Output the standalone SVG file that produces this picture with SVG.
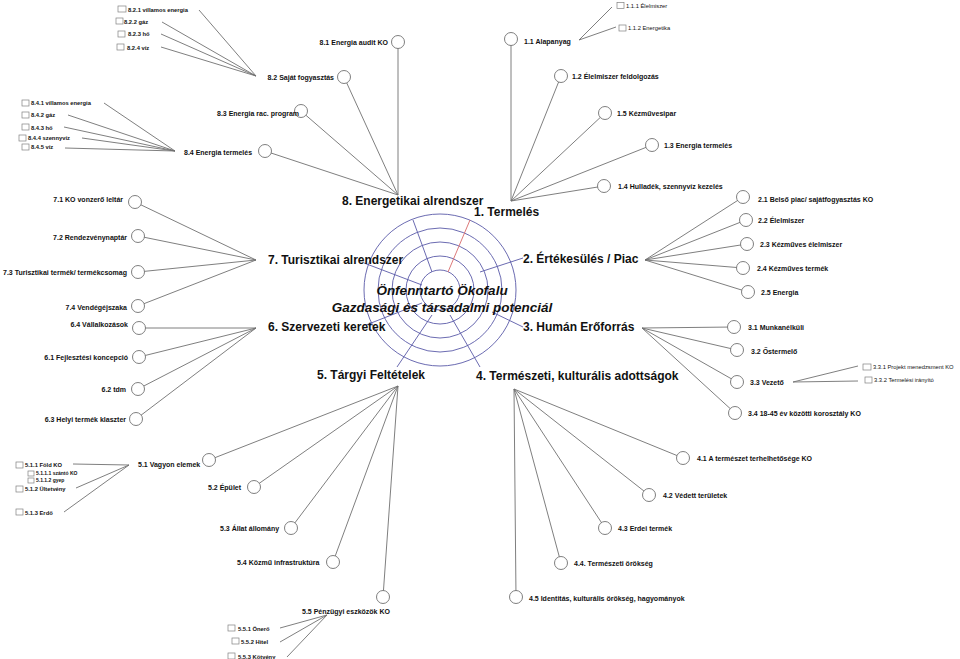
<svg xmlns="http://www.w3.org/2000/svg" width="960" height="659" viewBox="0 0 960 659">
<style>
.ln{stroke:#707070;stroke-width:0.9;fill:none}
.nd{fill:#fff;stroke:#707070;stroke-width:0.9}
.cb{fill:#fff;stroke:#808080;stroke-width:0.7}
.lb{font-family:"Liberation Sans",Arial,sans-serif;font-size:7px;font-weight:bold;fill:#111}
.sm{font-family:"Liberation Sans",Arial,sans-serif;font-size:5.8px;fill:#111}
.smb{font-family:"Liberation Sans",Arial,sans-serif;font-size:5.8px;font-weight:bold;fill:#111}
.xs{font-family:"Liberation Sans",Arial,sans-serif;font-size:5px;font-weight:bold;fill:#111}
.cat{font-family:"Liberation Sans",Arial,sans-serif;font-size:12px;font-weight:bold;fill:#111}
.ctr{font-family:"Liberation Sans",Arial,sans-serif;font-size:13.5px;font-weight:bold;font-style:italic;fill:#111}
.ring{fill:none;stroke:#5a5aa8;stroke-width:0.9}
.spk{stroke:#5a5aa8;stroke-width:0.9}
.spr{stroke:#d86a6a;stroke-width:0.9}
.r{text-anchor:end}
</style>
<rect width="960" height="659" fill="#fff"/>

<g id="target">
<circle class="ring" cx="440" cy="290" r="76"/>
<circle class="ring" cx="440" cy="290" r="62"/>
<circle class="ring" cx="440" cy="290" r="48"/>
<circle class="ring" cx="440" cy="290" r="34"/>
<circle class="ring" cx="440" cy="290" r="20"/>
<line class="spk" x1="432" y1="272" x2="413" y2="220"/>
<line class="spr" x1="448" y1="272" x2="470" y2="220"/>
<line class="spk" x1="480" y1="272" x2="523" y2="258"/>
<line class="spk" x1="492" y1="312" x2="523" y2="327"/>
<line class="spk" x1="450" y1="315" x2="480" y2="367"/>
<line class="spk" x1="432" y1="315" x2="397" y2="367"/>
<line class="spk" x1="422" y1="303" x2="366" y2="325"/>
<line class="spk" x1="422" y1="285" x2="364" y2="263"/>
</g>

<g id="connectors">
<line class="ln" x1="398" y1="42" x2="398" y2="195"/>
<line class="ln" x1="344" y1="77" x2="398" y2="195"/>
<line class="ln" x1="301" y1="111" x2="398" y2="195"/>
<line class="ln" x1="265" y1="151" x2="398" y2="195"/>
<line class="ln" x1="199" y1="10" x2="256" y2="76"/>
<line class="ln" x1="162" y1="22" x2="256" y2="76"/>
<line class="ln" x1="161" y1="34" x2="256" y2="76"/>
<line class="ln" x1="161" y1="47" x2="256" y2="76"/>
<line class="ln" x1="104" y1="103" x2="175" y2="151"/>
<line class="ln" x1="68" y1="115" x2="175" y2="151"/>
<line class="ln" x1="64" y1="127" x2="175" y2="151"/>
<line class="ln" x1="82" y1="138" x2="175" y2="151"/>
<line class="ln" x1="65" y1="148" x2="175" y2="151"/>
<line class="ln" x1="511" y1="39" x2="511" y2="201"/>
<line class="ln" x1="561" y1="76" x2="511" y2="201"/>
<line class="ln" x1="605" y1="113" x2="511" y2="201"/>
<line class="ln" x1="652" y1="145" x2="511" y2="201"/>
<line class="ln" x1="604" y1="186" x2="511" y2="201"/>
<line class="ln" x1="579" y1="40" x2="612" y2="7"/>
<line class="ln" x1="579" y1="40" x2="616" y2="27"/>
<line class="ln" x1="743" y1="197" x2="645" y2="260"/>
<line class="ln" x1="746" y1="220" x2="645" y2="260"/>
<line class="ln" x1="747" y1="244" x2="645" y2="260"/>
<line class="ln" x1="743" y1="268" x2="645" y2="260"/>
<line class="ln" x1="748" y1="292" x2="645" y2="260"/>
<line class="ln" x1="734" y1="327" x2="642" y2="328"/>
<line class="ln" x1="737" y1="350" x2="642" y2="328"/>
<line class="ln" x1="737" y1="382" x2="642" y2="328"/>
<line class="ln" x1="735" y1="413" x2="642" y2="328"/>
<line class="ln" x1="793" y1="382" x2="858" y2="366"/>
<line class="ln" x1="793" y1="382" x2="858" y2="381"/>
<line class="ln" x1="683" y1="458" x2="514" y2="389"/>
<line class="ln" x1="649" y1="495" x2="514" y2="389"/>
<line class="ln" x1="605" y1="528" x2="514" y2="389"/>
<line class="ln" x1="561" y1="563" x2="514" y2="389"/>
<line class="ln" x1="516" y1="597" x2="514" y2="389"/>
<line class="ln" x1="209" y1="460" x2="398" y2="386"/>
<line class="ln" x1="254" y1="487" x2="398" y2="386"/>
<line class="ln" x1="291" y1="528" x2="398" y2="386"/>
<line class="ln" x1="333" y1="562" x2="398" y2="386"/>
<line class="ln" x1="383" y1="597" x2="398" y2="386"/>
<line class="ln" x1="73" y1="464" x2="129" y2="465"/>
<line class="ln" x1="76" y1="488" x2="129" y2="465"/>
<line class="ln" x1="64" y1="512" x2="129" y2="465"/>
<line class="ln" x1="280" y1="628" x2="327" y2="615"/>
<line class="ln" x1="280" y1="642" x2="327" y2="615"/>
<line class="ln" x1="287" y1="657" x2="327" y2="615"/>
<line class="ln" x1="139" y1="328" x2="256" y2="328"/>
<line class="ln" x1="139" y1="357" x2="256" y2="328"/>
<line class="ln" x1="138" y1="389" x2="256" y2="328"/>
<line class="ln" x1="136" y1="419" x2="256" y2="328"/>
<line class="ln" x1="135" y1="202" x2="256" y2="260"/>
<line class="ln" x1="138" y1="236" x2="256" y2="260"/>
<line class="ln" x1="138" y1="272" x2="256" y2="260"/>
<line class="ln" x1="138" y1="306" x2="256" y2="260"/>
</g>

<g id="center-text">
<text class="ctr" x="442" y="295" text-anchor="middle">Önfenntartó Ökofalu</text>
<text class="ctr" x="442" y="312" text-anchor="middle">Gazdasági és társadalmi potenciál</text>
</g>

<g id="cat8"><text class="cat" x="342" y="205">8. Energetikai alrendszer</text></g>
<g id="cat1"><text class="cat" x="474" y="216">1. Termelés</text></g>
<g id="cat2"><text class="cat" x="523" y="263">2. Értékesülés / Piac</text></g>
<g id="cat3"><text class="cat" x="523" y="331">3. Humán Erőforrás</text></g>
<g id="cat4"><text class="cat" x="476" y="380">4. Természeti, kulturális adottságok</text></g>
<g id="cat5"><text class="cat" x="317" y="379">5. Tárgyi Feltételek</text></g>
<g id="cat6"><text class="cat" x="268" y="331">6. Szervezeti keretek</text></g>
<g id="cat7"><text class="cat" x="268" y="264">7. Turisztikai alrendszer</text></g>

<g id="n8-1"><circle class="nd" cx="398" cy="42" r="6.5"/><text class="lb r" x="388" y="45">8.1 Energia audit KO</text></g>
<g id="n8-2"><circle class="nd" cx="344" cy="77" r="6.5"/><text class="lb r" x="334" y="80">8.2 Saját fogyasztás</text></g>
<g id="n8-3"><circle class="nd" cx="301" cy="111" r="6.5"/><text class="lb" x="217" y="116">8.3 Energia rac. program</text></g>
<g id="n8-4"><circle class="nd" cx="265" cy="151" r="6.5"/><text class="lb" x="184" y="155">8.4 Energia termelés</text></g>
<g id="n8-2-1"><rect class="cb" x="118" y="6" width="8" height="6"/><text class="smb" x="128" y="11.5">8.2.1 villamos energia</text></g>
<g id="n8-2-2"><rect class="cb" x="116" y="18" width="7" height="6"/><text class="smb" x="124" y="23.5">8.2.2 gáz</text></g>
<g id="n8-2-3"><rect class="cb" x="118" y="31" width="7" height="6"/><text class="smb" x="128" y="36">8.2.3 hő</text></g>
<g id="n8-2-4"><rect class="cb" x="117" y="44" width="7" height="6"/><text class="smb" x="127" y="49.5">8.2.4 víz</text></g>
<g id="n8-4-1"><rect class="cb" x="22" y="100" width="7" height="6"/><text class="smb" x="31" y="105">8.4.1 villamos energia</text></g>
<g id="n8-4-2"><rect class="cb" x="22" y="112" width="7" height="6"/><text class="smb" x="31" y="117">8.4.2 gáz</text></g>
<g id="n8-4-3"><rect class="cb" x="22" y="124" width="7" height="6"/><text class="smb" x="31" y="129.5">8.4.3 hő</text></g>
<g id="n8-4-4"><rect class="cb" x="19" y="135" width="7" height="6"/><text class="smb" x="28" y="140">8.4.4 szennyvíz</text></g>
<g id="n8-4-5"><rect class="cb" x="22" y="144" width="7" height="6"/><text class="smb" x="31" y="149">8.4.5 víz</text></g>

<g id="n1-1"><circle class="nd" cx="511" cy="39" r="6.5"/><text class="lb" x="524" y="44">1.1 Alapanyag</text></g>
<g id="n1-2"><circle class="nd" cx="561" cy="76" r="6.5"/><text class="lb" x="572" y="79">1.2 Élelmiszer feldolgozás</text></g>
<g id="n1-5"><circle class="nd" cx="605" cy="113" r="6.5"/><text class="lb" x="617" y="116">1.5 Kézművesipar</text></g>
<g id="n1-3"><circle class="nd" cx="652" cy="145" r="6.5"/><text class="lb" x="664" y="148">1.3 Energia termelés</text></g>
<g id="n1-4"><circle class="nd" cx="604" cy="186" r="6.5"/><text class="lb" x="618" y="189">1.4 Hulladék, szennyvíz kezelés</text></g>
<g id="n1-1-1"><rect class="cb" x="617" y="2.5" width="7" height="6"/><text class="sm" x="626" y="8">1.1.1 Élelmiszer</text></g>
<g id="n1-1-2"><rect class="cb" x="619" y="25" width="7" height="6"/><text class="sm" x="628" y="30">1.1.2 Energetika</text></g>

<g id="n2-1"><circle class="nd" cx="743" cy="197" r="6.5"/><text class="lb" x="758" y="202">2.1 Belső piac/ sajátfogyasztás KO</text></g>
<g id="n2-2"><circle class="nd" cx="746" cy="220" r="6.5"/><text class="lb" x="758" y="223">2.2 Élelmiszer</text></g>
<g id="n2-3"><circle class="nd" cx="747" cy="244" r="6.5"/><text class="lb" x="760" y="247">2.3 Kézműves élelmiszer</text></g>
<g id="n2-4"><circle class="nd" cx="743" cy="268" r="6.5"/><text class="lb" x="757" y="271">2.4 Kézműves termék</text></g>
<g id="n2-5"><circle class="nd" cx="748" cy="292" r="6.5"/><text class="lb" x="761" y="295">2.5 Energia</text></g>

<g id="n3-1"><circle class="nd" cx="734" cy="327" r="6.5"/><text class="lb" x="748" y="330">3.1 Munkanélküli</text></g>
<g id="n3-2"><circle class="nd" cx="737" cy="350" r="6.5"/><text class="lb" x="751" y="354">3.2 Őstermelő</text></g>
<g id="n3-3"><circle class="nd" cx="737" cy="382" r="6.5"/><text class="lb" x="750" y="385">3.3 Vezető</text></g>
<g id="n3-4"><circle class="nd" cx="735" cy="413" r="6.5"/><text class="lb" x="748" y="416">3.4 18-45 év közötti korosztály KO</text></g>
<g id="n3-3-1"><rect class="cb" x="863" y="364" width="8" height="6"/><text class="sm" x="873" y="369">3.3.1 Projekt menedzsment KO</text></g>
<g id="n3-3-2"><rect class="cb" x="865" y="377" width="7" height="6"/><text class="sm" x="874" y="382">3.3.2 Termelési irányító</text></g>

<g id="n4-1"><circle class="nd" cx="683" cy="458" r="6.5"/><text class="lb" x="697" y="461">4.1 A természet terhelhetősége KO</text></g>
<g id="n4-2"><circle class="nd" cx="649" cy="495" r="6.5"/><text class="lb" x="663" y="498">4.2 Védett területek</text></g>
<g id="n4-3"><circle class="nd" cx="605" cy="528" r="6.5"/><text class="lb" x="618" y="531">4.3 Erdei termék</text></g>
<g id="n4-4"><circle class="nd" cx="561" cy="563" r="6.5"/><text class="lb" x="574" y="566">4.4. Természeti örökség</text></g>
<g id="n4-5"><circle class="nd" cx="516" cy="597" r="6.5"/><text class="lb" x="529" y="601">4.5 Identitás, kulturális örökség, hagyományok</text></g>

<g id="n5-1"><circle class="nd" cx="209" cy="460" r="6.5"/><text class="lb" x="138" y="467">5.1 Vagyon elemek</text></g>
<g id="n5-2"><circle class="nd" cx="254" cy="487" r="6.5"/><text class="lb" x="208" y="490">5.2 Épület</text></g>
<g id="n5-3"><circle class="nd" cx="291" cy="528" r="6.5"/><text class="lb" x="220" y="531">5.3 Állat állomány</text></g>
<g id="n5-4"><circle class="nd" cx="333" cy="562" r="6.5"/><text class="lb" x="237" y="565">5.4 Közmű infrastruktúra</text></g>
<g id="n5-5"><circle class="nd" cx="383" cy="597" r="6.5"/><text class="lb" x="302" y="614">5.5 Pénzügyi eszközök KO</text></g>
<g id="n5-1-1"><rect class="cb" x="16" y="462" width="7" height="6"/><text class="smb" x="25" y="467">5.1.1 Föld KO</text></g>
<g id="n5-1-1-1"><rect class="cb" x="28" y="471" width="6" height="5"/><text class="xs" x="36" y="475">5.1.1.1 szántó KO</text></g>
<g id="n5-1-1-2"><rect class="cb" x="28" y="478" width="6" height="5"/><text class="xs" x="36" y="482">5.1.1.2 gyep</text></g>
<g id="n5-1-2"><rect class="cb" x="16" y="486" width="7" height="6"/><text class="smb" x="25" y="491">5.1.2 Ültetvény</text></g>
<g id="n5-1-3"><rect class="cb" x="16" y="509" width="7" height="6"/><text class="smb" x="25" y="515">5.1.3 Erdő</text></g>
<g id="n5-5-1"><rect class="cb" x="228" y="625" width="7" height="6"/><text class="smb" x="238" y="631">5.5.1 Önerő</text></g>
<g id="n5-5-2"><rect class="cb" x="232" y="638" width="7" height="6"/><text class="smb" x="241" y="644">5.5.2 Hitel</text></g>
<g id="n5-5-3"><rect class="cb" x="228" y="653" width="7" height="6"/><text class="smb" x="238" y="659">5.5.3 Kötvény</text></g>

<g id="n6-4"><circle class="nd" cx="139" cy="328" r="6.5"/><text class="lb r" x="128" y="327">6.4 Vállalkozások</text></g>
<g id="n6-1"><circle class="nd" cx="139" cy="357" r="6.5"/><text class="lb r" x="128" y="359.5">6.1 Fejlesztési koncepció</text></g>
<g id="n6-2"><circle class="nd" cx="138" cy="389" r="6.5"/><text class="lb r" x="126" y="392">6.2 tdm</text></g>
<g id="n6-3"><circle class="nd" cx="136" cy="419" r="6.5"/><text class="lb r" x="126" y="422">6.3 Helyi termék klaszter</text></g>

<g id="n7-1"><circle class="nd" cx="135" cy="202" r="6.5"/><text class="lb r" x="123" y="202">7.1 KO vonzerő leltár</text></g>
<g id="n7-2"><circle class="nd" cx="138" cy="236" r="6.5"/><text class="lb r" x="127" y="239.5">7.2 Rendezvénynaptár</text></g>
<g id="n7-3"><circle class="nd" cx="138" cy="272" r="6.5"/><text class="lb r" x="127" y="274.5">7.3 Turisztikai termék/ termékcsomag</text></g>
<g id="n7-4"><circle class="nd" cx="138" cy="306" r="6.5"/><text class="lb r" x="127" y="309.5">7.4 Vendégéjszaka</text></g>
</svg>
